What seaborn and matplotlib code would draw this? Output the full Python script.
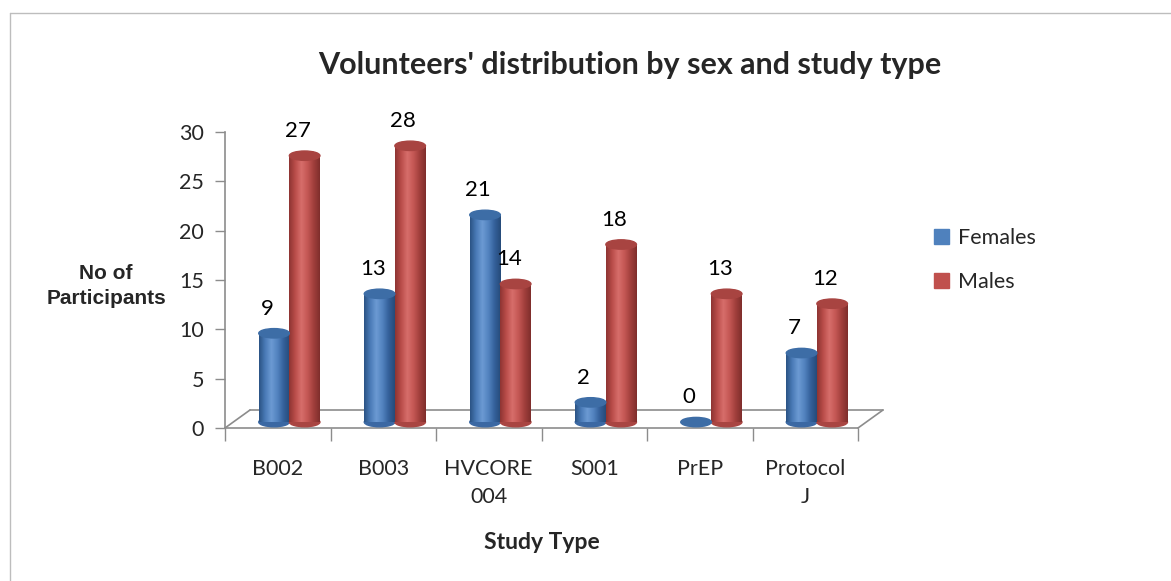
import numpy as np
import pandas as pd
import matplotlib
matplotlib.use('Agg')
import matplotlib.pyplot as plt
import matplotlib.transforms as mtransforms
from matplotlib.patches import Ellipse
from matplotlib.colors import LinearSegmentedColormap
from matplotlib.lines import Line2D
import seaborn as sns

# data
studies = ['B002', 'B003', 'HVCORE\n004', 'S001', 'PrEP', 'Protocol\nJ']
females = [9, 13, 21, 2, 0, 7]
males = [27, 28, 14, 18, 13, 12]

df = pd.DataFrame({'study': studies * 2,
                   'sex': ['Females'] * len(studies) + ['Males'] * len(studies),
                   'n': females + males})

blue = '#4F81BD'
red = '#C0504D'
shade = {'Females': ['#2B5385', '#4A7BB7', '#6C9AD3', '#5283BF', '#34609A', '#264B7A'],
         'Males': ['#8E3432', '#BA4D4A', '#D76E6B', '#C45754', '#A13F3C', '#7F2E2C']}
cap = {'Females': '#3D6DA6', 'Males': '#A84441'}

sns.set_style('white')
plt.rcParams['font.family'] = ['Lato', 'DejaVu Sans']

fig = plt.figure(figsize=(11.71, 5.81), dpi=100)
ax = fig.add_axes([225 / 1171, 1 - 428 / 581, (858 - 225) / 1171, (428 - 132) / 581])

sns.barplot(data=df, x='study', y='n', hue='sex', order=studies,
            palette={'Females': blue, 'Males': red}, width=0.58,
            saturation=1, ax=ax, legend=False)

ymax = 30
shift = 0.11   # bars sit toward the back of the 3d floor
lift = 0.6     # bars stand on the middle of the floor
cap_h = 0.95
for cont, sex in zip(ax.containers, ['Females', 'Males']):
    cmap = LinearSegmentedColormap.from_list(sex, shade[sex])
    grad = np.linspace(0, 1, 100).reshape(1, -1)
    for p in cont:
        p.set_x(p.get_x() + shift)
        x0, w, h = p.get_x(), p.get_width(), p.get_height()
        p.set_visible(False)
        if h > 0:
            ax.imshow(grad, extent=[x0, x0 + w, lift, h + lift], aspect='auto', cmap=cmap,
                      zorder=3, interpolation='bilinear')
            ax.add_patch(Ellipse((x0 + w / 2, lift), w, cap_h, color=cmap(0.75),
                                 zorder=2.9, clip_on=False))
        ax.add_patch(Ellipse((x0 + w / 2, h + lift), w, cap_h, color=cap[sex], zorder=4,
                             clip_on=False))
        ax.annotate(f'{int(h)}', (x0 + w / 2, h), xytext=(-5, 22),
                    textcoords='offset points', ha='center', va='center',
                    fontsize=16, color='black')

ax.set_xlim(-0.5, len(studies) - 0.5)
ax.set_ylim(0, ymax)
ax.set_yticks(range(0, 31, 5))
ax.set_xticks(range(len(studies)))
ax.set_xticklabels(studies, fontsize=15.5, linespacing=1.55)
ax.set_xticks(np.arange(-0.5, len(studies), 1), minor=True)
ax.tick_params(axis='y', labelsize=15.5, length=7, width=1, color='#8C8C8C',
               left=True, pad=8)
ax.tick_params(axis='x', which='major', length=0, pad=22)
ax.tick_params(axis='x', which='minor', length=9, width=1, color='#8C8C8C',
               bottom=True)
for s in ['top', 'right']:
    ax.spines[s].set_visible(False)
for s in ['left', 'bottom']:
    ax.spines[s].set_color('#8C8C8C')
    ax.spines[s].set_linewidth(1.2)

# 3d floor
off = mtransforms.offset_copy(ax.transData, fig=fig, x=25, y=18, units='dots')
xl, xr = ax.get_xlim()
ax.add_line(Line2D([xl, xr], [0, 0], transform=off, color='#8C8C8C', lw=1.2, clip_on=False, zorder=1))
for xx in (xl, xr):
    p0 = ax.transData.transform((xx, 0))
    p1 = off.transform((xx, 0))
    ax.add_line(Line2D([p0[0], p1[0]], [p0[1], p1[1]], transform=None,
                       color='#8C8C8C', lw=1.2, clip_on=False, zorder=1))

ax.set_xlabel('Study Type', fontsize=16.5, fontweight='bold', labelpad=18)
ax.set_ylabel('')
fig.text(106 / 1171, 1 - 286 / 581, 'No of\nParticipants', ha='center', va='center',
         fontsize=15, fontweight='bold', family=['Liberation Sans'], linespacing=1.35)
fig.text(630 / 1171, 1 - 65 / 581, "Volunteers' distribution by sex and study type",
         ha='center', va='center', fontsize=22, fontweight='bold')

handles = [plt.Rectangle((0, 0), 1, 1, color=blue), plt.Rectangle((0, 0), 1, 1, color=red)]
fig.legend(handles, ['Females', 'Males'], loc='center left',
           bbox_to_anchor=(915 / 1171, 1 - 260 / 581), frameon=False, fontsize=15.5,
           handlelength=0.7, handleheight=0.7, handletextpad=0.4, labelspacing=1.1)

# chart frame
fig.add_artist(Line2D([10 / 1171, 1], [1 - 13 / 581, 1 - 13 / 581], transform=fig.transFigure,
                      color='#BDBDBD', lw=1))
fig.add_artist(Line2D([10 / 1171, 10 / 1171], [0, 1 - 13 / 581], transform=fig.transFigure,
                      color='#BDBDBD', lw=1))

fig.savefig('out.png', dpi=100)
